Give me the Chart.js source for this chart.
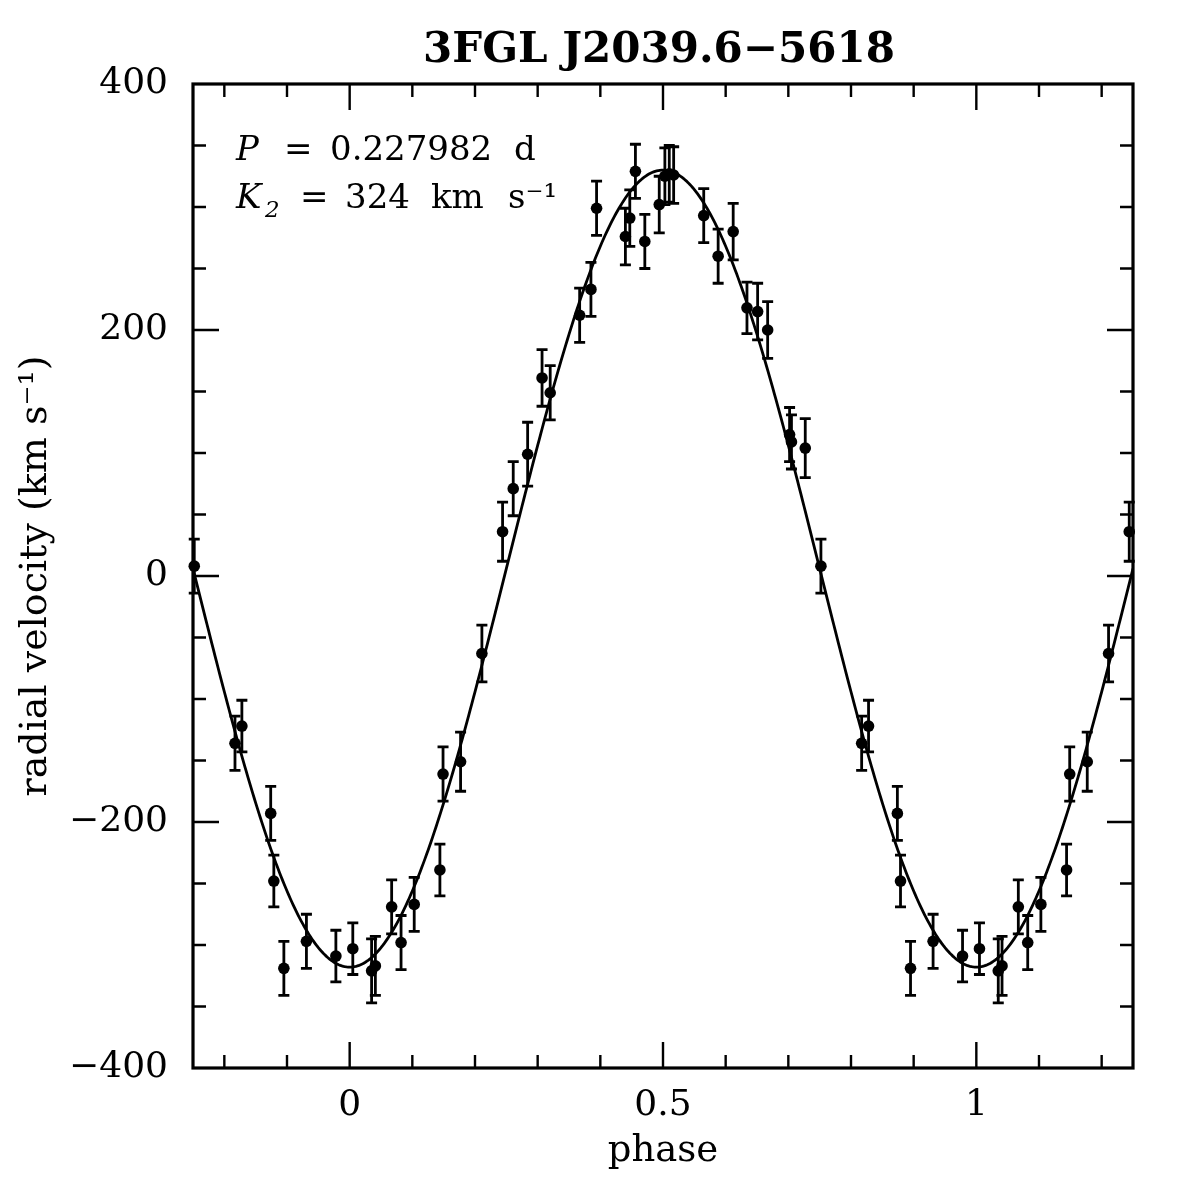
<!DOCTYPE html>
<html><head><meta charset="utf-8">
<script src="https://cdn.jsdelivr.net/npm/chart.js@4.4.0/dist/chart.umd.min.js"></script>
<style>html,body{margin:0;padding:0;background:#fff}#wrap{width:1196px;height:1196px}</style>
</head><body><div id="wrap"><canvas id="c" width="1196" height="1196"></canvas></div>
<script>
// ---- text ----
const chartTitle = "3FGL J2039.6\u22125618";
const xAxisTitle = "phase";
const yAxisTitle = "radial velocity (km s\u207B\u00B9)";
const xTickLabels = [0, 0.5, 1];
const yTickLabels = [-400, -200, 0, 200, 400];
// ---- fit parameters shown on the plot ----
const periodDays = "0.227982";
const K2 = 324;       // km/s semi-amplitude
const gamma = 6;      // km/s systemic velocity
// ---- measurements (orbital phase in [0,1)) ----
const phases = [0.005, 0.035, 0.041, 0.067, 0.082, 0.103, 0.144, 0.149, 0.177, 0.211, 0.244,
  0.261, 0.284, 0.307, 0.320, 0.367, 0.385, 0.394, 0.440, 0.447, 0.456, 0.471, 0.494,
  0.503, 0.510, 0.517, 0.565, 0.588, 0.612, 0.634, 0.651, 0.667, 0.702, 0.705, 0.727,
  0.752, 0.817, 0.828, 0.874, 0.879, 0.895, 0.931, 0.978];
const velocities = [-303, -321, -317, -269, -298, -267, -239, -161, -151, -63, 36,
  71, 99, 161, 149, 212, 233, 299, 276, 291, 329, 272, 302,
  325, 327, 326, 293, 260, 280, 218, 215, 200, 115, 109, 104,
  8, -136, -122, -193, -248, -319, -297, -309];
const errors = [21, 26, 24, 22, 22, 22, 21, 22, 24, 23, 24,
  22, 26, 23, 22, 22, 22, 22, 23, 23, 22, 22, 23,
  23, 23, 23, 22, 22, 23, 21, 23, 23, 22, 22, 24,
  22, 22, 21, 22, 21, 22, 22, 21];

const X_MIN = -0.25, X_MAX = 1.25, Y_MIN = -400, Y_MAX = 400;

// points repeated one cycle either side, within the plotted phase range
const pts = [];
phases.forEach((p, i) => {
  [p - 1, p, p + 1].forEach(q => {
    if (q >= X_MIN - 1e-9 && q <= X_MAX + 1e-9) pts.push({x: q, y: velocities[i], e: errors[i]});
  });
});
// circular-orbit model with the plotted K2
const curve = [];
for (let k = 0; k <= 600; k++) {
  const ph = X_MIN + (X_MAX - X_MIN) * k / 600;
  curve.push({x: ph, y: gamma - K2 * Math.cos(2 * Math.PI * ph)});
}

const SERIF = "'DejaVu Serif', serif";

const errorBars = {
  id: 'errorBars',
  afterDatasetsDraw(chart) {
    const {ctx, scales: {x, y}} = chart;
    ctx.save();
    ctx.strokeStyle = '#000'; ctx.lineWidth = 2.8; ctx.lineCap = 'butt';
    pts.forEach(d => {
      const px = x.getPixelForValue(d.x);
      const y1 = y.getPixelForValue(d.y + d.e), y2 = y.getPixelForValue(d.y - d.e);
      ctx.beginPath();
      ctx.moveTo(px, y1); ctx.lineTo(px, y2);
      ctx.moveTo(px - 5.5, y1); ctx.lineTo(px + 5.5, y1);
      ctx.moveTo(px - 5.5, y2); ctx.lineTo(px + 5.5, y2);
      ctx.stroke();
    });
    ctx.restore();
  }
};

const frame = {
  id: 'frame',
  afterDraw(chart) {
    const {ctx, chartArea: a, scales: {x, y}} = chart;
    ctx.save();
    ctx.strokeStyle = '#000'; ctx.lineWidth = 3.2;
    ctx.strokeRect(a.left, a.top, a.right - a.left, a.bottom - a.top);
    ctx.lineWidth = 2.4;
    ctx.beginPath();
    for (let v = -2; v <= 12; v++) {
      const val = v / 10;
      const major = v % 5 === 0;
      const L = major ? 26 : 13;
      const px = x.getPixelForValue(val);
      ctx.moveTo(px, a.bottom); ctx.lineTo(px, a.bottom - L);
      ctx.moveTo(px, a.top); ctx.lineTo(px, a.top + L);
    }
    for (let v = -350; v <= 350; v += 50) {
      const major = v % 200 === 0;
      const L = major ? 26 : 13;
      const py = y.getPixelForValue(v);
      ctx.moveTo(a.left, py); ctx.lineTo(a.left + L, py);
      ctx.moveTo(a.right, py); ctx.lineTo(a.right - L, py);
    }
    ctx.stroke();

    // title
    ctx.fillStyle = '#000';
    ctx.textAlign = 'center'; ctx.textBaseline = 'alphabetic';
    ctx.font = "bold 42px " + SERIF;
    ctx.fillText(chartTitle, (a.left + a.right) / 2 - 4, 62);

    // annotations
    ctx.textAlign = 'left';
    ctx.font = "italic 34px " + SERIF;
    ctx.fillText("P", 236, 160);
    ctx.fillText("K", 236, 208);
    ctx.font = "italic 23px " + SERIF;
    ctx.fillText("2", 265, 217);
    ctx.font = "34px " + SERIF;
    ctx.fillText("=", 284, 160);
    ctx.fillText(periodDays, 330, 160);
    ctx.fillText("d", 514, 160);
    ctx.fillText("=", 300, 208);
    ctx.fillText(String(K2), 345, 208);
    ctx.fillText("km", 431, 208);
    ctx.fillText("s\u207B\u00B9", 508, 208);
    ctx.restore();
  }
};

new Chart(document.getElementById('c'), {
  type: 'scatter',
  data: {
    datasets: [
      {data: curve, showLine: true, pointRadius: 0, borderColor: '#000', borderWidth: 2.8, fill: false, tension: 0},
      {data: pts, pointRadius: 5.8, pointHoverRadius: 5.8, backgroundColor: '#000', borderWidth: 0, clip: false}
    ]
  },
  options: {
    responsive: false, animation: false, devicePixelRatio: 1,
    layout: {padding: {top: 84, right: 63, left: 0, bottom: 0}},
    plugins: {legend: {display: false}, tooltip: {enabled: false}, title: {display: false}},
    scales: {
      x: {
        type: 'linear', min: X_MIN, max: X_MAX,
        afterBuildTicks: s => { s.ticks = xTickLabels.map(v => ({value: v})); },
        afterFit: s => { s.height = 128; },
        grid: {display: false, drawTicks: false}, border: {display: false},
        ticks: {color: '#000', font: {family: SERIF, size: 36}, padding: 16, maxRotation: 0, autoSkip: false,
          callback: v => String(v)},
        title: {display: true, text: xAxisTitle, color: '#000', font: {family: SERIF, size: 37}, padding: {top: 0, bottom: 22}}
      },
      y: {
        type: 'linear', min: Y_MIN, max: Y_MAX,
        afterBuildTicks: s => { s.ticks = yTickLabels.map(v => ({value: v})); },
        afterFit: s => { s.width = 193; },
        grid: {display: false, drawTicks: false}, border: {display: false},
        ticks: {color: '#000', font: {family: SERIF, size: 36}, padding: 25, autoSkip: false,
          callback: v => v < 0 ? '\u2212' + Math.abs(v) : String(v)},
        title: {display: true, text: yAxisTitle, color: '#000', font: {family: SERIF, size: 38}, padding: {top: 13, bottom: 0}}
      }
    }
  },
  plugins: [errorBars, frame]
});
</script></body></html>
